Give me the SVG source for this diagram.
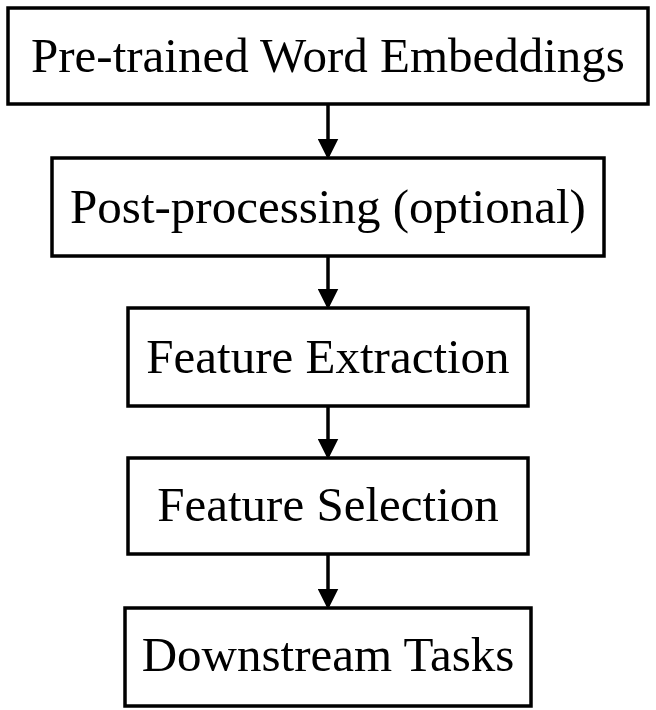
<svg xmlns="http://www.w3.org/2000/svg" width="656" height="710" viewBox="0 0 656 710">
<style>
.b{fill:#fff;stroke:#000;stroke-width:3.5}
text{font-family:"Liberation Serif",serif;font-size:49px;text-anchor:middle;fill:#000}
line{stroke:#000;stroke-width:3.5}
</style>
<defs><marker id="a" markerWidth="6" markerHeight="6" refX="5" refY="3" orient="auto" markerUnits="strokeWidth"><path d="M0,0L6,3L0,6z" fill="#000"/></marker></defs>
<rect width="656" height="710" fill="#fff"/>
<g id="connectors">
<line x1="328" y1="104" x2="328" y2="156" marker-end="url(#a)"/>
<line x1="328" y1="256" x2="328" y2="306" marker-end="url(#a)"/>
<line x1="328" y1="406" x2="328" y2="456" marker-end="url(#a)"/>
<line x1="328" y1="554" x2="328" y2="606" marker-end="url(#a)"/>
</g>
<g id="n1"><rect class="b" x="8" y="8" width="640" height="96"/><text x="328" y="72">Pre-trained Word Embeddings</text></g>
<g id="n2"><rect class="b" x="52" y="158" width="552" height="98"/><text x="328" y="223">Post-processing (optional)</text></g>
<g id="n3"><rect class="b" x="128" y="308" width="400" height="98"/><text x="328" y="373">Feature Extraction</text></g>
<g id="n4"><rect class="b" x="128" y="458" width="400" height="96"/><text x="328" y="521">Feature Selection</text></g>
<g id="n5"><rect class="b" x="125" y="608" width="406" height="98"/><text x="328" y="671">Downstream Tasks</text></g>
</svg>
